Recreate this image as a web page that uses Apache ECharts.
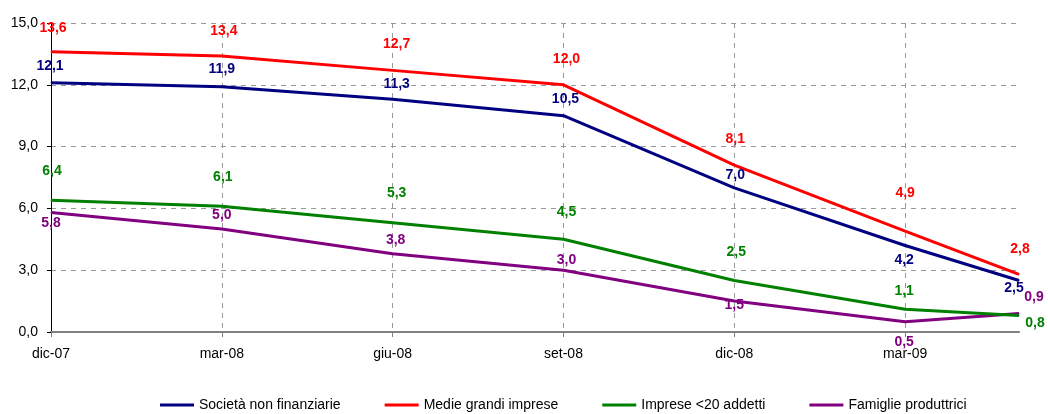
<!DOCTYPE html>
<html><head><meta charset="utf-8">
<script src="https://cdn.jsdelivr.net/npm/echarts@6/dist/echarts.min.js"></script>
<style>html,body{margin:0;padding:0;background:#fff}#c{width:1048px;height:414px}</style>
</head><body><div id="c"></div>
<script>
// months since Dec 2007 for each observation
const months = [0, 3, 6, 9, 12, 15, 17];
const tickMonths = [0, 3, 6, 9, 12, 15];
const tickLabels = ['dic-07', 'mar-08', 'giu-08', 'set-08', 'dic-08', 'mar-09'];

const seriesNames = ['Società non finanziarie', 'Medie grandi imprese', 'Imprese <20 addetti', 'Famiglie produttrici'];
const societa = [12.1, 11.9, 11.3, 10.5, 7.0, 4.2, 2.5];
const medieGrandi = [13.6, 13.4, 12.7, 12.0, 8.1, 4.9, 2.8];
const impreseMinori = [6.4, 6.1, 5.3, 4.5, 2.5, 1.1, 0.8];
const famiglie = [5.8, 5.0, 3.8, 3.0, 1.5, 0.5, 0.9];

// styling: colors and label offsets (pixels, relative to point)
const colors = ['#000080', '#ff0000', '#008000', '#800080'];
const labelOffsets = [
  [[-1,-17],[0,-18],[4,-15],[2,-17],[1,-13],[-1,15],[-5,8]],
  [[2,-24],[2,-25],[4,-26],[3,-26],[1,-26],[0,-38],[1,-25]],
  [[1,-29],[1,-29],[4,-30],[3,-27],[2,-28],[-1,-18],[16,8]],
  [[0,11],[0,-14],[3,-14],[3,-10],[0,4],[-1,20],[15,-16]]
];

const FONT = '"Liberation Sans", Arial, sans-serif';
const fmt = v => v.toFixed(1).replace('.', ',');
const allValues = [societa, medieGrandi, impreseMinori, famiglie];

const series = allValues.map((vals, si) => ({
  name: seriesNames[si],
  type: 'line',
  symbol: 'circle',
  symbolSize: 1,
  lineStyle: { width: 3, color: colors[si] },
  itemStyle: { color: colors[si] },
  z: 10 - si,
  label: {
    show: true, position: 'inside', color: colors[si],
    fontFamily: FONT, fontWeight: 'bold', fontSize: 14,
    formatter: p => fmt(p.value[1])
  },
  data: vals.map((v, i) => ({ value: [months[i], v], label: { offset: labelOffsets[si][i] } })),
  animation: false
}));

const gridLine = { show: true, lineStyle: { type: [5, 5], color: '#999999', width: 1 } };

const chart = echarts.init(document.getElementById('c'), null, { renderer: 'canvas' });
chart.setOption({
  animation: false,
  grid: { left: 51, right: 29, top: 23, bottom: 82, containLabel: false },
  legend: {
    top: 393, left: 155,
    icon: 'rect', itemWidth: 34, itemHeight: 3, itemGap: 44,
    textStyle: { fontFamily: FONT, fontSize: 14, color: '#000' },
    data: seriesNames
  },
  xAxis: {
    type: 'value', min: 0, max: months[months.length - 1], interval: 3,
    axisLine: { show: true, lineStyle: { color: '#808080', width: 2 } },
    axisTick: { show: true, length: 5, customValues: tickMonths, lineStyle: { color: '#808080' } },
    axisLabel: {
      customValues: tickMonths, margin: 15,
      fontFamily: FONT, fontSize: 14, color: '#000',
      formatter: v => tickLabels[tickMonths.indexOf(v)] || ''
    },
    splitLine: gridLine
  },
  yAxis: {
    type: 'value', min: 0, max: 15, interval: 3,
    axisLine: { show: true, lineStyle: { color: '#000', width: 1 } },
    axisTick: { show: true, length: 4, lineStyle: { color: '#000' } },
    axisLabel: { fontFamily: FONT, fontSize: 14, color: '#000', margin: 13, formatter: fmt },
    splitLine: gridLine
  },
  series: series
});
</script>
</body></html>
